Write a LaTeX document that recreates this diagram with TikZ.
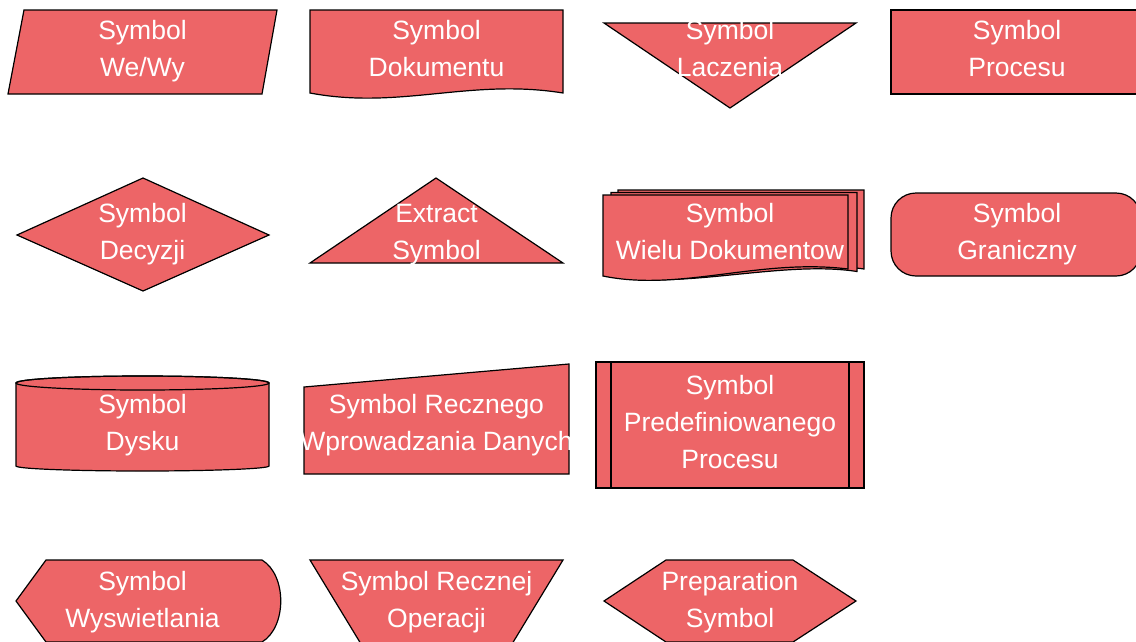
\documentclass[tikz,border=0pt]{standalone}
\usepackage{fontspec}
\setmainfont{Liberation Sans}
\definecolor{symred}{RGB}{237,101,103}
\newcommand\lstrut{\strut}
\begin{document}
\begin{tikzpicture}[x=1pt,y=-1pt,
  shp/.style={draw=black,fill=symred,line width=1.2pt,line join=miter},
  lbl/.style={text=white,font=\fontsize{26.5}{37}\selectfont,align=center,inner sep=0pt}]
\useasboundingbox (0,0) rectangle (1136,641);
\clip (0,0) rectangle (1136,641);

% ---- row 1 ----
% input / output
\draw[shp] (24,10) -- (277,10) -- (262,94) -- (8,94) -- cycle;
\node[lbl] (io) at (142.5,51) {\lstrut Symbol\\\lstrut We/Wy};
% document
\draw[shp] (310,10) -- (563,10) -- (563,93)
  .. controls (470,78) and (400,110) .. (310,93) -- cycle;
\node[lbl] (doc) at (436.5,51) {\lstrut Symbol\\\lstrut Dokumentu};
% merge
\draw[shp] (604,23) -- (856,23) -- (730,108) -- cycle;
\node[lbl] (merge) at (730,51) {\lstrut Symbol\\\lstrut Laczenia};
% process
\draw[shp] (891,10) rectangle (1146,94);
\node[lbl] (proc) at (1017,51) {\lstrut Symbol\\\lstrut Procesu};

% ---- row 2 ----
% decision
\draw[shp] (17,235) -- (143,178) -- (269,235) -- (143,291) -- cycle;
\node[lbl] (dec) at (142.5,234) {\lstrut Symbol\\\lstrut Decyzji};
% extract
\draw[shp] (310,263) -- (563,263) -- (436,178) -- cycle;
\node[lbl] (extr) at (436.5,234) {\lstrut Extract\\\lstrut Symbol};
% multiple documents
\draw[shp] (618,190) -- (864,190) -- (864,269)
  .. controls (790,258) and (690,288) .. (618,274) -- cycle;
\draw[shp] (611,192.5) -- (857,192.5) -- (857,271.5)
  .. controls (783,260) and (683,290) .. (611,276) -- cycle;
\draw[shp] (603,195) -- (848,195) -- (848,269)
  .. controls (760,258) and (680,292) .. (603,276) -- cycle;
\node[lbl] (mdoc) at (730,234) {\lstrut Symbol\\\lstrut Wielu Dokumentow};
% terminator
\draw[shp,rounded corners=25pt] (891,193) rectangle (1141,276);
\node[lbl] (term) at (1017,234) {\lstrut Symbol\\\lstrut Graniczny};

% ---- row 3 ----
% disk
\draw[shp] (16,383) -- (16,466)
  arc[start angle=180,end angle=0,x radius=126.5,y radius=5] -- (269,383)
  arc[start angle=0,end angle=-180,x radius=126.5,y radius=7] -- cycle;
\draw[shp,fill=none] (142.5,383) ellipse[x radius=126.5,y radius=7];
\node[lbl] (disk) at (142.5,425) {\lstrut Symbol\\\lstrut Dysku};
% manual input
\draw[shp] (304,387) -- (569,364) -- (569,474) -- (304,474) -- cycle;
\node[lbl] (minp) at (436.5,425) {\lstrut Symbol Recznego\\\lstrut Wprowadzania Danych};
% predefined process
\draw[shp] (596,362) rectangle (864,488);
\draw[shp] (611,362) -- (611,488) (849,362) -- (849,488);
\node[lbl] (pre) at (730,424.5) {\lstrut Symbol\\\lstrut Predefiniowanego\\\lstrut Procesu};

% ---- row 4 ----
% display
\draw[shp] (16,601) -- (46,560) -- (262,560)
  .. controls (287,575) and (287,627) .. (262,642) -- (46,642) -- cycle;
\node[lbl] (disp) at (142.5,602) {\lstrut Symbol\\\lstrut Wyswietlania};
% manual operation
\draw[shp] (310,560) -- (563,560) -- (512,644) -- (361,644) -- cycle;
\node[lbl] (mop) at (436.5,602) {\lstrut Symbol Recznej\\\lstrut Operacji};
% preparation
\draw[shp] (604,601) -- (666,560) -- (793,560) -- (856,601) -- (793,642) -- (666,642) -- cycle;
\node[lbl] (prep) at (730,602) {\lstrut Preparation\\\lstrut Symbol};
\end{tikzpicture}
\end{document}
